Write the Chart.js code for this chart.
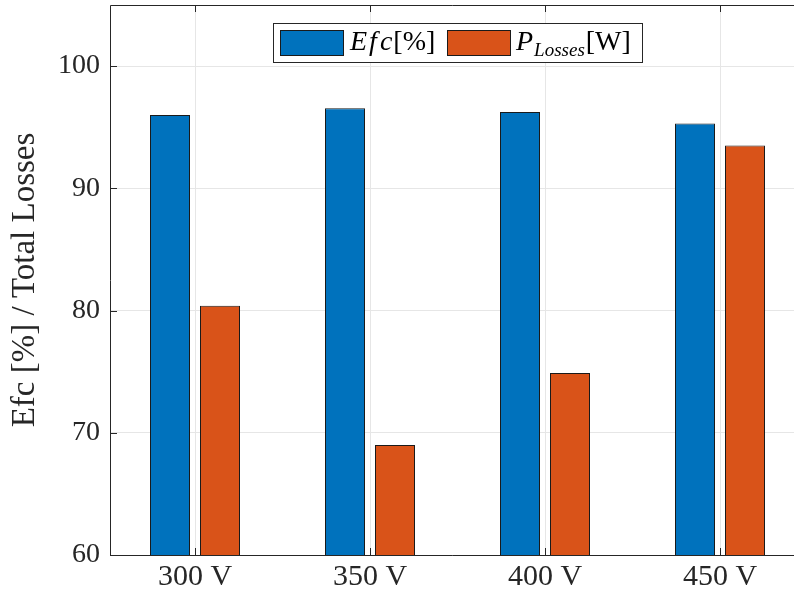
<!DOCTYPE html>
<html>
<head>
<meta charset="utf-8">
<script src="https://cdn.jsdelivr.net/npm/chart.js@4/dist/chart.umd.min.js"></script>
<style>
  html, body { margin: 0; padding: 0; background: #fff; overflow: hidden; }
  #wrap { width: 794px; height: 599px; position: relative; }
</style>
</head>
<body>
<div id="wrap"><canvas id="c" width="794" height="599"></canvas></div>
<script>
// Supply voltage cases and measured results
const categories = ['300 V', '350 V', '400 V', '450 V'];
const efficiency = [96.0, 96.55, 96.25, 95.3];   // Efc [%]
const losses     = [80.4, 69.0, 74.9, 93.5];     // P_Losses [W]
const yTicks     = [60, 70, 80, 90, 100];

const BLUE = '#0072BD';
const ORANGE = '#D95319';
const AXIS = '#262626';
const FONT = '"Liberation Serif", "DejaVu Serif", serif';

const toPoints = arr => arr.map((v, i) => ({ x: i + 1, y: v }));

// Box axes with inward ticks plus a math-style legend
const axesAndLegend = {
  id: 'axesAndLegend',
  afterDatasetsDraw(chart) {
    const { ctx, chartArea: a, scales: { x, y } } = chart;
    ctx.save();
    ctx.strokeStyle = AXIS;
    ctx.lineWidth = 1;
    ctx.beginPath();
    ctx.moveTo(a.right + 2, a.top + 0.5);
    ctx.lineTo(a.left + 0.5, a.top + 0.5);
    ctx.lineTo(a.left + 0.5, a.bottom + 0.5);
    ctx.lineTo(a.right + 2, a.bottom + 0.5);
    ctx.stroke();
    const L = 7;
    ctx.beginPath();
    yTicks.forEach(v => {
      const py = Math.round(y.getPixelForValue(v)) + 0.5;
      ctx.moveTo(a.left, py); ctx.lineTo(a.left + L, py);
    });
    categories.forEach((c, i) => {
      const px = Math.round(x.getPixelForValue(i + 1)) + 0.5;
      ctx.moveTo(px, a.top); ctx.lineTo(px, a.top + L);
      ctx.moveTo(px, a.bottom); ctx.lineTo(px, a.bottom - L);
    });
    ctx.stroke();

    // legend box
    const bx = 273.5, by = 23.5, bw = 369, bh = 39;
    ctx.fillStyle = '#fff';
    ctx.fillRect(bx, by, bw, bh);
    ctx.strokeRect(bx, by, bw, bh);
    const sw = [[280.5, BLUE], [447.5, ORANGE]];
    sw.forEach(([sx, col]) => {
      ctx.fillStyle = col;
      ctx.fillRect(sx, 30.5, 63, 25);
      ctx.strokeStyle = '#1a1a1a';
      ctx.strokeRect(sx, 30.5, 63, 25);
    });
    ctx.fillStyle = '#000';
    ctx.textBaseline = 'alphabetic';
    ctx.textAlign = 'left';
    const base = 50;
    const it = 'italic 28px ' + FONT;
    const up = '28px ' + FONT;
    const sub = 'italic 19px ' + FONT;
    let tx = 350;
    const put = (txt, font, dy = 0, gap = 0) => {
      ctx.font = font;
      ctx.fillText(txt, tx, base + dy);
      tx += ctx.measureText(txt).width + gap;
    };
    put('E', it, 0, 2); put('f', it, 0, 3); put('c', it, 0, 1); put('[%]', up);
    tx = 516;
    put('P', it, 0, 1); put('Losses', sub, 6, 1); put('[W]', up);
    ctx.restore();
  }
};

const barStyle = {
  borderColor: '#1a1a1a', borderWidth: 1, borderSkipped: false,
  categoryPercentage: 100 / 175, barPercentage: 0.8
};

new Chart(document.getElementById('c'), {
  type: 'bar',
  data: {
    datasets: [
      { label: 'Efc[%]', data: toPoints(efficiency), backgroundColor: BLUE, ...barStyle },
      { label: 'P_Losses[W]', data: toPoints(losses), backgroundColor: ORANGE, ...barStyle }
    ]
  },
  options: {
    responsive: false,
    animation: false,
    devicePixelRatio: 1,
    layout: { padding: { top: 5, right: 0, left: 0, bottom: 0 } },
    plugins: { legend: { display: false }, tooltip: { enabled: false } },
    scales: {
      x: {
        type: 'linear',
        offset: false,
        min: 1 - 85 / 175,
        max: 4 + 74 / 175,
        afterBuildTicks: s => { s.ticks = categories.map((c, i) => ({ value: i + 1 })); },
        afterFit: s => { s.height = 44; s.paddingLeft = 0; s.paddingRight = 0; },
        ticks: {
          callback: v => categories[v - 1] ?? '',
          font: { family: FONT, size: 30 },
          color: AXIS,
          padding: 4,
          maxRotation: 0
        },
        grid: { color: '#e6e6e6', drawTicks: false, offset: false },
        border: { display: false }
      },
      y: {
        min: 60,
        max: 105,
        afterBuildTicks: s => { s.ticks = yTicks.map(v => ({ value: v })); },
        afterFit: s => { s.width = 110; s.paddingTop = 0; s.paddingBottom = 0; },
        ticks: {
          font: { family: FONT, size: 28 },
          color: AXIS,
          padding: 10
        },
        grid: { color: '#e6e6e6', drawTicks: false },
        border: { display: false },
        title: {
          display: true,
          text: 'Efc [%] / Total Losses',
          font: { family: FONT, size: 33 },
          color: AXIS,
          padding: { top: 6, bottom: 0 }
        }
      }
    }
  },
  plugins: [axesAndLegend]
});
</script>
</body>
</html>
